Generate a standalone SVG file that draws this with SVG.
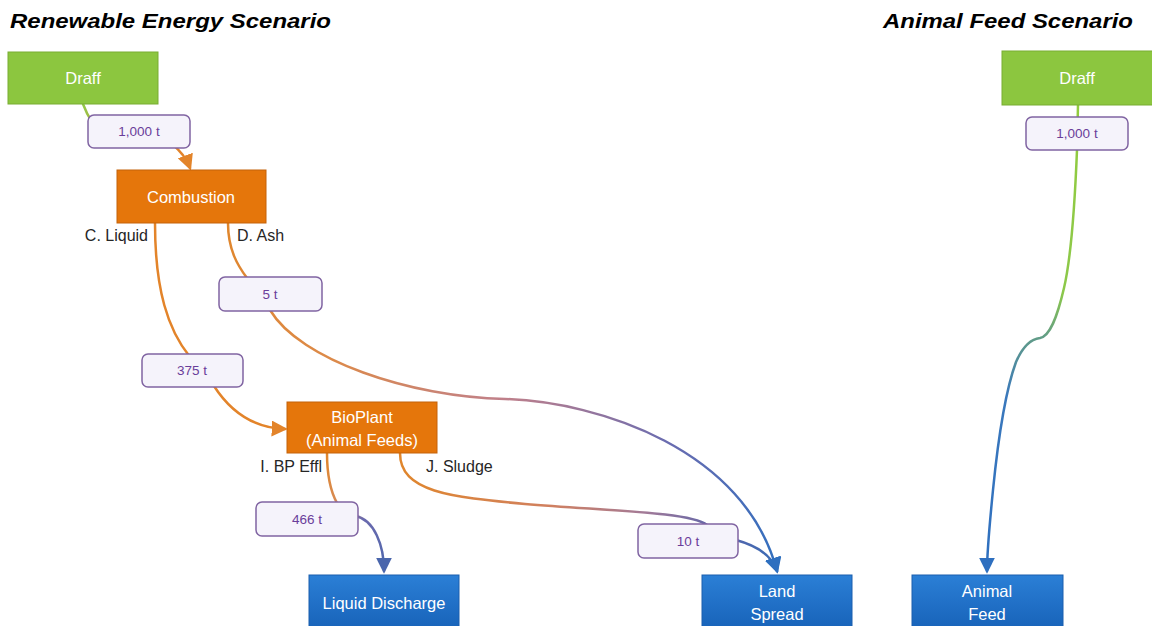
<svg xmlns="http://www.w3.org/2000/svg" width="1152" height="626" viewBox="0 0 1152 626">
  <style>
    .title { font-family: "Liberation Sans", Arial, sans-serif; font-weight: bold; font-style: italic; font-size: 20px; fill: #000; }
    .node-text { font-family: "Liberation Sans", Arial, sans-serif; font-size: 16.5px; fill: #fff; text-anchor: middle; }
    .side { font-family: "Liberation Sans", Arial, sans-serif; font-size: 16px; fill: #262626; }
    .qty-box { fill: #f5f3fb; stroke: #8064a2; stroke-width: 1.5; }
    .qty { font-family: "Liberation Sans", Arial, sans-serif; font-size: 13.5px; fill: #6a3d9a; text-anchor: middle; }
    .green { fill: #8cc63f; stroke: #78ad32; stroke-width: 1; }
    .orange { fill: #e5760b; stroke: #c4620a; stroke-width: 1; }
    .blue { fill: url(#blueFill); stroke: #1a5fae; stroke-width: 1; }
    .edge { fill: none; stroke-width: 2.5; stroke-linecap: round; }
  </style>
  <defs>
    <linearGradient id="blueFill" x1="0" y1="0" x2="0" y2="1">
      <stop offset="0" stop-color="#2b7fd6"/>
      <stop offset="1" stop-color="#1762b8"/>
    </linearGradient>
    <!-- stroke gradients, one per connector, laid out in user space -->
    <linearGradient id="gDraffComb" gradientUnits="userSpaceOnUse" x1="83" y1="104" x2="191" y2="170">
      <stop offset="0" stop-color="#92c84a"/>
      <stop offset="0.35" stop-color="#c9a03a"/>
      <stop offset="0.7" stop-color="#e3842a"/>
      <stop offset="1" stop-color="#e3842a"/>
    </linearGradient>
    <linearGradient id="gAsh" gradientUnits="userSpaceOnUse" x1="228" y1="223" x2="777" y2="573">
      <stop offset="0" stop-color="#e0862c"/>
      <stop offset="0.25" stop-color="#dc8a4a"/>
      <stop offset="0.5" stop-color="#c0808a"/>
      <stop offset="0.75" stop-color="#6a6cb0"/>
      <stop offset="1" stop-color="#2f6fbf"/>
    </linearGradient>
    <linearGradient id="gEffl" gradientUnits="userSpaceOnUse" x1="0" y1="453" x2="0" y2="573">
      <stop offset="0" stop-color="#e0862c"/>
      <stop offset="0.38" stop-color="#d88a50"/>
      <stop offset="0.55" stop-color="#6a6aae"/>
      <stop offset="1" stop-color="#4a66ac"/>
    </linearGradient>
    <linearGradient id="gSludge" gradientUnits="userSpaceOnUse" x1="400" y1="0" x2="777" y2="0">
      <stop offset="0" stop-color="#e0862c"/>
      <stop offset="0.4" stop-color="#d08060"/>
      <stop offset="0.65" stop-color="#a27a98"/>
      <stop offset="0.85" stop-color="#5a64aa"/>
      <stop offset="1" stop-color="#3a6cb5"/>
    </linearGradient>
    <linearGradient id="gFeed" gradientUnits="userSpaceOnUse" x1="0" y1="105" x2="0" y2="575">
      <stop offset="0" stop-color="#92cc3e"/>
      <stop offset="0.4" stop-color="#8cc84a"/>
      <stop offset="0.5" stop-color="#5f9a8a"/>
      <stop offset="0.62" stop-color="#3a78bc"/>
      <stop offset="1" stop-color="#2e6fbf"/>
    </linearGradient>
    <marker id="arrOrange" markerUnits="userSpaceOnUse" markerWidth="16" markerHeight="16" viewBox="0 0 12 12" refX="10" refY="6" orient="auto">
      <path d="M0,0 L12,6 L0,12 Z" fill="#e3842a"/>
    </marker>
    <marker id="arrBlue" markerUnits="userSpaceOnUse" markerWidth="16" markerHeight="16" viewBox="0 0 12 12" refX="10" refY="6" orient="auto">
      <path d="M0,0 L12,6 L0,12 Z" fill="#2e6fbf"/>
    </marker>
    <marker id="arrSlate" markerUnits="userSpaceOnUse" markerWidth="16" markerHeight="16" viewBox="0 0 12 12" refX="10" refY="6" orient="auto">
      <path d="M0,0 L12,6 L0,12 Z" fill="#4a66ac"/>
    </marker>
  </defs>

  <rect width="1152" height="626" fill="#fff"/>

  <text class="title" x="10" y="28" textLength="321" lengthAdjust="spacingAndGlyphs">Renewable Energy Scenario</text>
  <text class="title" x="883" y="28" textLength="250" lengthAdjust="spacingAndGlyphs">Animal Feed Scenario</text>

  <!-- connectors (quantity boxes are drawn on top of them) -->
  <g id="connectors">
    <path class="edge" stroke="url(#gDraffComb)" marker-end="url(#arrOrange)" d="M83,104 C86,112 88,116 92,122 L172,144 C182,152 187,160 190,168"/>
    <path class="edge" stroke="#e3842a" marker-end="url(#arrOrange)" d="M155,223 C155,290 168,330 190,357 L214,386 C232,414 256,428 285,429"/>
    <path class="edge" stroke="url(#gAsh)" marker-end="url(#arrBlue)" d="M228,223 C228,250 238,266 247,278 L270,310 C300,360 410,397 505,399 C600,402 745,450 777,571"/>
    <path class="edge" stroke="url(#gEffl)" marker-end="url(#arrSlate)" d="M327,453 C327,480 332,494 337,503 L356,516 C374,520 384,545 384,571"/>
    <path class="edge" stroke="url(#gSludge)" marker-end="url(#arrBlue)" d="M400,453 C400,492 450,497 525,504 C610,511 690,512 707,525 L736,540 C758,546 772,556 777,571"/>
    <path class="edge" stroke="url(#gFeed)" marker-end="url(#arrBlue)" d="M1078,105 L1077,150 C1075,200 1071,258 1064,288 C1057,318 1050,336 1040,338 C1031,339 1023,346 1016,362 C1005,392 998,440 993,490 C989,530 987,555 987,571"/>
  </g>

  <g id="qty-draff-combustion">
    <rect class="qty-box" x="88" y="115" width="102" height="33" rx="6"/>
    <text class="qty" x="139" y="136">1,000 t</text>
  </g>
  <g id="qty-liquid">
    <rect class="qty-box" x="142" y="354" width="101" height="33" rx="6"/>
    <text class="qty" x="192" y="375">375 t</text>
  </g>
  <g id="qty-ash">
    <rect class="qty-box" x="219" y="277" width="103" height="34" rx="6"/>
    <text class="qty" x="270" y="299">5 t</text>
  </g>
  <g id="qty-effl">
    <rect class="qty-box" x="256" y="502" width="102" height="34" rx="6"/>
    <text class="qty" x="307" y="524">466 t</text>
  </g>
  <g id="qty-sludge">
    <rect class="qty-box" x="638" y="524" width="100" height="34" rx="6"/>
    <text class="qty" x="688" y="546">10 t</text>
  </g>
  <g id="qty-draff-feed">
    <rect class="qty-box" x="1026" y="117" width="102" height="33" rx="6"/>
    <text class="qty" x="1077" y="138">1,000 t</text>
  </g>

  <!-- Renewable energy scenario nodes -->
  <g id="draff-re">
    <rect class="green" x="8" y="52" width="150" height="52"/>
    <text class="node-text" x="83" y="84">Draff</text>
  </g>
  <g id="combustion">
    <rect class="orange" x="117" y="170" width="149" height="53"/>
    <text class="node-text" x="191" y="203">Combustion</text>
    <text class="side" x="148" y="241" text-anchor="end">C. Liquid</text>
    <text class="side" x="237" y="241">D. Ash</text>
  </g>
  <g id="bioplant">
    <rect class="orange" x="287" y="402" width="150" height="51"/>
    <text class="node-text" x="362" y="423">BioPlant</text>
    <text class="node-text" x="362" y="446">(Animal Feeds)</text>
    <text class="side" x="322" y="472" text-anchor="end">I. BP Effl</text>
    <text class="side" x="426" y="472">J. Sludge</text>
  </g>
  <g id="liquid-discharge">
    <rect class="blue" x="309" y="575" width="150" height="56"/>
    <text class="node-text" x="384" y="609">Liquid Discharge</text>
  </g>
  <g id="land-spread">
    <rect class="blue" x="702" y="575" width="150" height="56"/>
    <text class="node-text" x="777" y="597">Land</text>
    <text class="node-text" x="777" y="620">Spread</text>
  </g>

  <!-- Animal feed scenario nodes -->
  <g id="draff-af">
    <rect class="green" x="1002" y="51" width="155" height="54"/>
    <text class="node-text" x="1077" y="84">Draff</text>
  </g>
  <g id="animal-feed">
    <rect class="blue" x="912" y="575" width="151" height="56"/>
    <text class="node-text" x="987" y="597">Animal</text>
    <text class="node-text" x="987" y="620">Feed</text>
  </g>
</svg>
